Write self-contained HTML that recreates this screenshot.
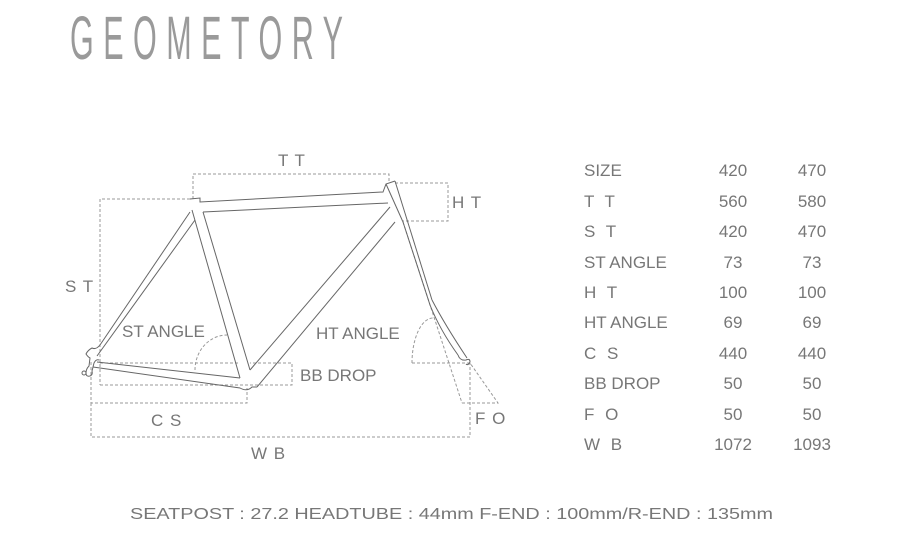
<!DOCTYPE html>
<html><head><meta charset="utf-8"><style>
html,body{margin:0;padding:0;background:#fff;width:900px;height:539px;overflow:hidden}
svg{display:block}
text{font-family:"Liberation Sans",sans-serif;fill:#777;font-weight:normal}
</style></head><body>
<svg width="900" height="539" viewBox="0 0 900 539" xmlns="http://www.w3.org/2000/svg">
<g transform="translate(70,59) scale(0.5,1)">
<text x="0" y="0" font-size="61" textLength="546" lengthAdjust="spacing" style="fill:#9a9a9a">GEOMETORY</text>
</g>

<g fill="none" stroke="#999" stroke-width="1" stroke-dasharray="3,2">
<polyline points="193,199 193,174 389,174 389,183"/>
<polyline points="395,183 448,183 448,221 403,221"/>
<polyline points="190,199 100,199 100,385"/>
<polyline points="100,385 292,385 292,363 250,363"/>
<line x1="100" y1="363" x2="240" y2="363"/>
<polyline points="91,362 91,403 247,403 247,388"/>
<polyline points="91,403 91,437 470,437 470,363"/>
<line x1="403" y1="222" x2="462" y2="403"/>
<polyline points="462,403 498,403 470,363"/>
<line x1="412" y1="363" x2="470" y2="363"/>
<path d="M412,363 A21,45 0 0 1 433,318"/>
<path d="M195,370 A32,35 0 0 1 227,335"/>
</g>

<g fill="none" stroke="#666" stroke-width="1">
<polyline points="190,199 200,198 200,202 383,192 386,184 395,181"/>
<polyline points="203,212 388,203"/>
<line x1="192" y1="210" x2="240" y2="378"/>
<line x1="203" y1="212" x2="250" y2="370"/>
<line x1="250" y1="370" x2="390" y2="207"/>
<line x1="257" y1="387" x2="395" y2="222"/>
<line x1="395" y1="181" x2="432" y2="300"/>
<line x1="386" y1="184" x2="403" y2="222"/>
<path d="M432,300 Q445,325 467,358"/>
<path d="M403,222 L430,305 Q440,330 458,355"/>
<path d="M458,355 q2,6 8,5 q4,-2 4,2 q-2,4 -4,2"/>
<line x1="190" y1="212" x2="100" y2="345"/>
<line x1="195" y1="220" x2="97" y2="356"/>
<line x1="97" y1="362" x2="240" y2="378"/>
<path d="M93,367 L240,388 Q247,392 252,387 L257,387"/>
<path d="M100,345 q-4,5 -8,3 q-4,2 -6,6 q2,3 4,4 l-1,8 q-3,3 -3,7 q0,4 4,3 q3,-1 2,-5 l2,-8 q2,-4 5,-3"/>
<circle cx="84" cy="373" r="2"/>
</g>

<g font-size="17">
<text x="278" y="166" letter-spacing="1">T T</text>
<text x="452" y="208" letter-spacing="1">H T</text>
<text x="65" y="292" letter-spacing="1">S T</text>
<text x="122" y="337">ST ANGLE</text>
<text x="316" y="339">HT ANGLE</text>
<text x="300" y="381">BB DROP</text>
<text x="151" y="426" letter-spacing="1">C S</text>
<text x="251" y="459" letter-spacing="1">W B</text>
<text x="475" y="424" letter-spacing="1">F O</text>
</g>

<g font-size="17">
<text x="584" y="176">SIZE</text><text x="733" y="176" text-anchor="middle">420</text><text x="812" y="176" text-anchor="middle">470</text>
<text x="584" y="207" letter-spacing="3">T T</text><text x="733" y="207" text-anchor="middle">560</text><text x="812" y="207" text-anchor="middle">580</text>
<text x="584" y="237" letter-spacing="3">S T</text><text x="733" y="237" text-anchor="middle">420</text><text x="812" y="237" text-anchor="middle">470</text>
<text x="584" y="268">ST ANGLE</text><text x="733" y="268" text-anchor="middle">73</text><text x="812" y="268" text-anchor="middle">73</text>
<text x="584" y="298" letter-spacing="3">H T</text><text x="733" y="298" text-anchor="middle">100</text><text x="812" y="298" text-anchor="middle">100</text>
<text x="584" y="328">HT ANGLE</text><text x="733" y="328" text-anchor="middle">69</text><text x="812" y="328" text-anchor="middle">69</text>
<text x="584" y="359" letter-spacing="3">C S</text><text x="733" y="359" text-anchor="middle">440</text><text x="812" y="359" text-anchor="middle">440</text>
<text x="584" y="389">BB DROP</text><text x="733" y="389" text-anchor="middle">50</text><text x="812" y="389" text-anchor="middle">50</text>
<text x="584" y="420" letter-spacing="3">F O</text><text x="733" y="420" text-anchor="middle">50</text><text x="812" y="420" text-anchor="middle">50</text>
<text x="584" y="450" letter-spacing="3">W B</text><text x="733" y="450" text-anchor="middle">1072</text><text x="812" y="450" text-anchor="middle">1093</text>
</g>

<text x="130" y="519" font-size="16" textLength="643" lengthAdjust="spacingAndGlyphs">SEATPOST : 27.2  HEADTUBE : 44mm  F-END : 100mm/R-END : 135mm</text>
</svg>
</body></html>
